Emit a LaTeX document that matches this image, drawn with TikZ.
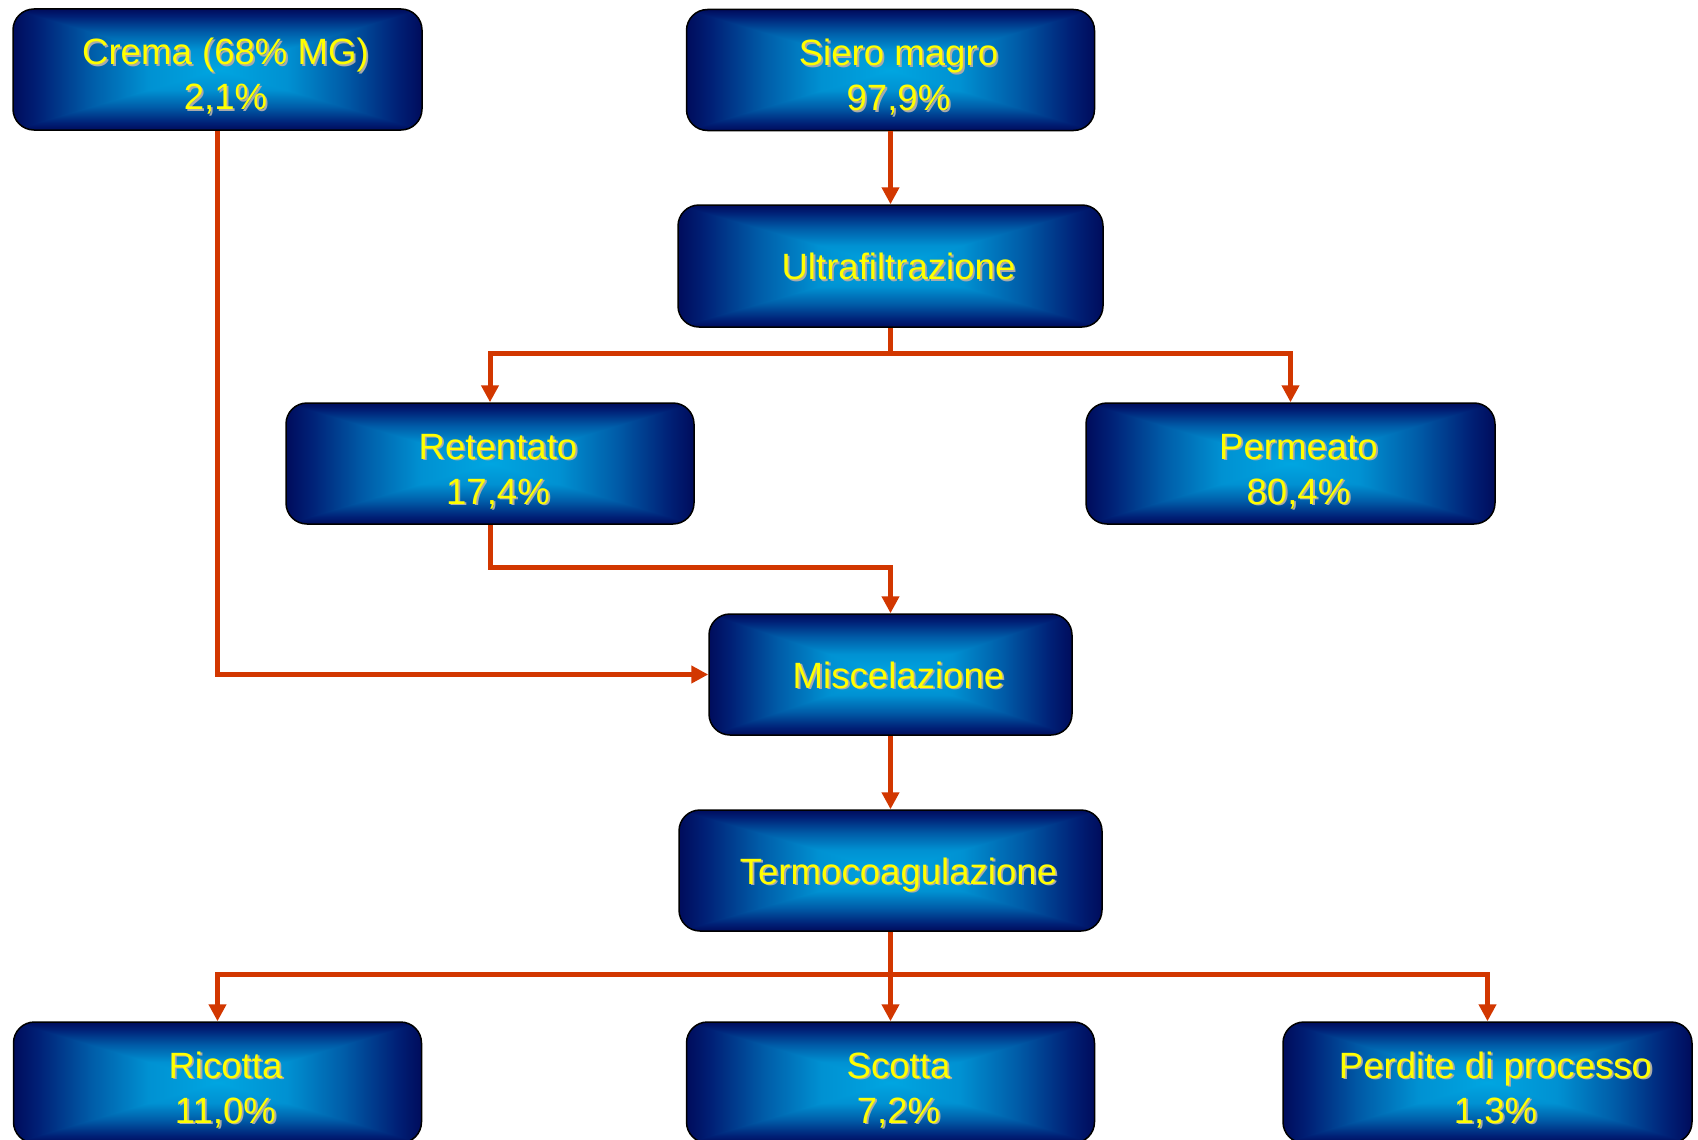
\documentclass[tikz,border=0pt]{standalone}
\usepackage{fontspec}
\setmainfont{Liberation Sans}[Ligatures=NoCommon]
\usetikzlibrary{arrows.meta,calc}
\definecolor{arrowred}{RGB}{210,55,0}
\definecolor{txtyellow}{RGB}{255,255,0}
\definecolor{shgray}{RGB}{170,170,170}
\definecolor{gA}{RGB}{0,12,92}
\definecolor{gB}{RGB}{0,32,118}
\definecolor{gC}{RGB}{0,92,168}
\definecolor{gD}{RGB}{0,145,210}
\definecolor{gE}{RGB}{0,166,225}
\pgfdeclarehorizontalshading{hsym}{100bp}{color(0bp)=(gA); color(25bp)=(gA); color(28bp)=(gB); color(34.5bp)=(gC); color(41.5bp)=(gD); color(50bp)=(gE); color(58.5bp)=(gD); color(65.5bp)=(gC); color(72bp)=(gB); color(75bp)=(gA); color(100bp)=(gA)}
\pgfdeclareverticalshading{vsym}{100bp}{color(0bp)=(gA); color(25bp)=(gA); color(28bp)=(gB); color(34.5bp)=(gC); color(41.5bp)=(gD); color(50bp)=(gE); color(58.5bp)=(gD); color(65.5bp)=(gC); color(72bp)=(gB); color(75bp)=(gA); color(100bp)=(gA)}
\newcommand\sh[1]{\rlap{\hspace{1.8pt}\raisebox{-1.8pt}{\color{shgray}#1}}#1}
\newcommand\twol[2]{\begin{tabular}[t]{@{\hspace{16pt}}c@{}}\sh{#1}\\\sh{#2}\end{tabular}}
\newcommand\onel[1]{\hspace*{16pt}\sh{#1}}
\tikzset{
  flowbox/.style={rounded corners=21pt, draw=black, line width=1.5pt,
    minimum height=121pt, inner sep=0pt, text=txtyellow,
    font=\fontsize{36.6pt}{45pt}\selectfont,
    path picture={
      \shade[shading=hsym] (path picture bounding box.north west) rectangle (path picture bounding box.south east);
      \shade[shading=vsym] (path picture bounding box.north west) -- (path picture bounding box.north east) -- (path picture bounding box.south west) -- (path picture bounding box.south east) -- cycle;
    }},
  twoline/.style={flowbox, text height=20pt, text depth=29pt},
  oneline/.style={flowbox, text height=27pt, text depth=0pt},
  flowarrow/.style={draw=arrowred, line width=5pt, -{Triangle[length=17pt,width=17pt]}},
  flowline/.style={draw=arrowred, line width=5pt}
}
\begin{document}
\begin{tikzpicture}[x=1pt,y=-1pt]
\useasboundingbox (0,0) rectangle (1698,1140);
\fill[white] (0,0) rectangle (1698,1140);
\clip (0,0) rectangle (1698,1140);

\node[twoline, minimum width=409pt] (crema) at (217.5,69.5) {\twol{Crema (68\% MG)}{2,1\%}};
\node[twoline, minimum width=408pt] (siero) at (890.5,70) {\twol{Siero magro}{97,9\%}};
\node[oneline, minimum width=425pt, minimum height=122pt] (ultra) at (890.5,266) {\onel{Ultrafiltrazione}};
\node[twoline, minimum width=408pt] (ret) at (490,463.5) {\twol{Retentato}{17,4\%}};
\node[twoline, minimum width=409pt] (perm) at (1290.5,463.5) {\twol{Permeato}{80,4\%}};
\node[oneline, minimum width=363pt] (misc) at (890.5,674.5) {\onel{Miscelazione}};
\node[oneline, minimum width=423pt] (termo) at (890.5,870.5) {\onel{Termocoagulazione}};
\node[twoline, minimum width=408pt] (ricotta) at (217.5,1082.5) {\twol{Ricotta}{11,0\%}};
\node[twoline, minimum width=408pt] (scotta) at (890.5,1082.5) {\twol{Scotta}{7,2\%}};
\node[twoline, minimum width=409pt] (perdite) at (1487.5,1082.5) {\twol{Perdite di processo}{1,3\%}};

\coordinate (split1) at (890.5,353);
\coordinate (split2) at (890.5,974);

\draw[flowarrow] (siero.south) -- (ultra.north);
\draw[flowline] (ultra.south) -- (split1);
\draw[flowarrow] (split1) -| (ret.north);
\draw[flowarrow] (split1) -| (perm.north);
\draw[flowarrow] (ret.south) -- ++(0,43) -| (misc.north);
\draw[flowarrow] (crema.south) |- (misc.west);
\draw[flowarrow] (misc.south) -- (termo.north);
\draw[flowline] (termo.south) -- (split2);
\draw[flowarrow] (split2) -| (ricotta.north);
\draw[flowarrow] (split2) -| (perdite.north);
\draw[flowarrow] (split2) -- (scotta.north);
\end{tikzpicture}
\end{document}
